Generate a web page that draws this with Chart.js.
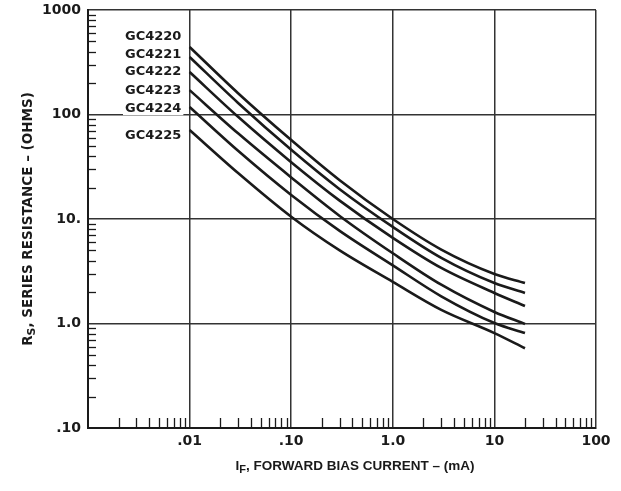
<!DOCTYPE html>
<html>
<head>
<meta charset="utf-8">
<script src="https://cdn.jsdelivr.net/npm/chart.js@4/dist/chart.umd.min.js"></script>
<style>
  html, body { margin: 0; padding: 0; background: #fff; }
</style>
</head>
<body>
<canvas id="rsChart" width="621" height="491"></canvas>
<script>
// forward bias current (mA) and series resistance (ohms)
const currentMA = [0.01, 0.03, 0.1, 0.3, 1, 3, 10, 20];
const rsGC4220 = [443, 160, 57, 23.5, 10, 5.1, 2.98, 2.44];
const rsGC4221 = [355, 129, 46, 19.3, 8.4, 4.25, 2.44, 1.96];
const rsGC4222 = [255, 95, 35, 15, 6.6, 3.4, 1.96, 1.47];
const rsGC4223 = [171, 66, 25, 10.7, 4.7, 2.35, 1.29, 0.99];
const rsGC4224 = [118, 45, 17, 7.7, 3.6, 1.82, 1.01, 0.81];
const rsGC4225 = [71, 27.5, 10.5, 5.0, 2.5, 1.35, 0.81, 0.58];

const deviceNames = ['GC4220', 'GC4221', 'GC4222', 'GC4223', 'GC4224', 'GC4225'];

const xTickValues = [0.001, 0.01, 0.1, 1, 10, 100];
const xTickLabels = ['', '.01', '.10', '1.0', '10', '100'];
const yTickValues = [0.1, 1, 10, 100, 1000];
const yTickLabels = ['.10', '1.0', '10.', '100', '1000'];

const allSeries = [rsGC4220, rsGC4221, rsGC4222, rsGC4223, rsGC4224, rsGC4225];

const ink = '#1a1a1a';
const fontFamily = '"DejaVu Sans", "Liberation Sans", Arial, sans-serif';
const narrowFamily = '"Liberation Sans", Arial, sans-serif';

// where the curve names sit (in data units), right aligned left of the .01 line
const nameAnchorX = 0.0083;
const nameAnchorY = [557, 371, 255, 171, 115, 63];

function make_datasets() {
    let datasets = [];
    for (let i = 0; i < allSeries.length; i++) {
        const series = allSeries[i];
        datasets.push({
            label: deviceNames[i],
            data: currentMA.map((x, j) => ({x: x, y: series[j]})),
            borderColor: ink,
            borderWidth: 2.6,
            pointRadius: 0,
            fill: false,
            cubicInterpolationMode: 'monotone'
        });
    }
    return datasets;
}

// text with one subscript letter, e.g. R_S or I_F
function draw_sub_text(ctx, family, size, main, sub, rest, cx, cy) {
    const bigFont = 'bold ' + size + 'px ' + family;
    const smallFont = 'bold ' + Math.round(size * 0.78) + 'px ' + family;
    ctx.font = bigFont;
    const w1 = ctx.measureText(main).width;
    const w3 = ctx.measureText(rest).width;
    ctx.font = smallFont;
    const w2 = ctx.measureText(sub).width;
    let x = cx - (w1 + w2 + w3) / 2;
    ctx.textBaseline = 'middle';
    ctx.textAlign = 'left';
    ctx.font = bigFont;
    ctx.fillText(main, x, cy);
    x += w1;
    ctx.font = smallFont;
    ctx.fillText(sub, x, cy + 4);
    x += w2;
    ctx.font = bigFont;
    ctx.fillText(rest, x, cy);
}

const extrasPlugin = {
    id: 'extras',
    beforeDatasetsDraw(chart) {
        const ctx = chart.ctx;
        const area = chart.chartArea;
        const xs = chart.scales.x;
        const ys = chart.scales.y;
        ctx.save();
        ctx.strokeStyle = ink;
        ctx.lineWidth = 1.3;

        // minor ticks pointing inward, bottom axis
        for (let d = 0.001; d < 99; d *= 10) {
            for (let k = 2; k <= 9; k++) {
                const px = Math.round(xs.getPixelForValue(d * k)) + 0.5;
                ctx.beginPath();
                ctx.moveTo(px, area.bottom);
                ctx.lineTo(px, area.bottom - 10);
                ctx.stroke();
            }
        }
        // minor ticks pointing inward, left axis
        for (let d = 0.1; d < 999; d *= 10) {
            for (let k = 2; k <= 9; k++) {
                const py = Math.round(ys.getPixelForValue(d * k)) + 0.5;
                ctx.beginPath();
                ctx.moveTo(area.left, py);
                ctx.lineTo(area.left + 8, py);
                ctx.stroke();
            }
        }
        ctx.restore();
    },
    afterDatasetsDraw(chart) {
        const ctx = chart.ctx;
        const area = chart.chartArea;
        const xs = chart.scales.x;
        const ys = chart.scales.y;
        ctx.save();
        ctx.fillStyle = ink;

        // curve names
        ctx.font = 'bold 13px ' + fontFamily;
        ctx.textAlign = 'right';
        ctx.textBaseline = 'middle';
        const nx = xs.getPixelForValue(nameAnchorX);
        for (let i = 0; i < deviceNames.length; i++) {
            const ny = ys.getPixelForValue(nameAnchorY[i]);
            const w = ctx.measureText(deviceNames[i]).width;
            ctx.fillStyle = '#fff';
            ctx.fillRect(nx - w - 2, ny - 7, w + 4, 14);
            ctx.fillStyle = ink;
            ctx.fillText(deviceNames[i], nx, ny);
        }

        // axis titles
        draw_sub_text(ctx, narrowFamily, 13.5, 'I', 'F', ', FORWARD BIAS CURRENT \u2013 (mA)',
            (area.left + area.right) / 2 + 13, area.bottom + 38);

        ctx.translate(28, (area.top + area.bottom) / 2);
        ctx.rotate(-Math.PI / 2);
        draw_sub_text(ctx, fontFamily, 13.5, 'R', 'S', ', SERIES RESISTANCE \u2013 (OHMS)', 0, 0);
        ctx.restore();
    }
};

const tickFont = {family: fontFamily, size: 14, weight: 'bold'};

new Chart(document.getElementById('rsChart').getContext('2d'), {
    type: 'line',
    data: {datasets: make_datasets()},
    plugins: [extrasPlugin],
    options: {
        responsive: false,
        animation: false,
        devicePixelRatio: 1,
        layout: {padding: {left: 0, top: 10, right: 25, bottom: 0}},
        plugins: {
            legend: {display: false},
            tooltip: {enabled: false}
        },
        scales: {
            x: {
                type: 'logarithmic',
                min: 0.001,
                max: 100,
                afterBuildTicks: s => { s.ticks = xTickValues.map(v => ({value: v})); },
                afterFit: s => { s.height = 63; s.paddingLeft = 0; s.paddingRight = 0; },
                ticks: {
                    autoSkip: false,
                    maxRotation: 0,
                    padding: 5,
                    color: ink,
                    font: tickFont,
                    callback: (v, i) => xTickLabels[i]
                },
                grid: {color: '#333', lineWidth: 1.5, drawTicks: false},
                border: {color: ink, width: 2}
            },
            y: {
                type: 'logarithmic',
                min: 0.1,
                max: 1000,
                afterBuildTicks: s => { s.ticks = yTickValues.map(v => ({value: v})); },
                afterFit: s => { s.width = 88; s.paddingTop = 0; s.paddingBottom = 0; },
                ticks: {
                    autoSkip: false,
                    padding: 7,
                    color: ink,
                    font: tickFont,
                    callback: (v, i) => yTickLabels[i]
                },
                grid: {color: '#333', lineWidth: 1.5, drawTicks: false},
                border: {color: ink, width: 2}
            }
        }
    }
});
</script>
</body>
</html>
